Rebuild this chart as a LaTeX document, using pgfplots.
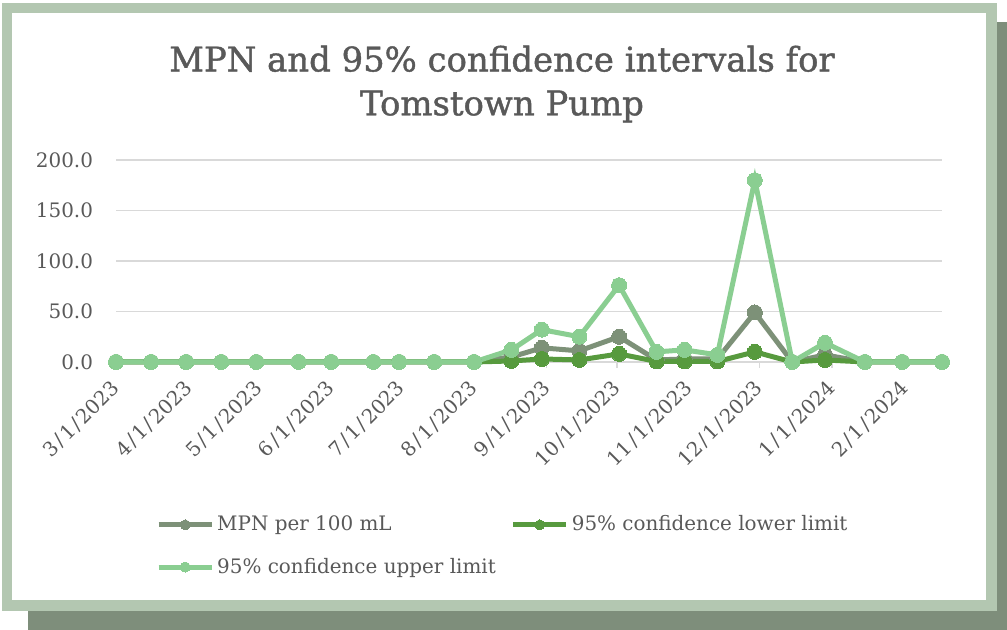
\documentclass[border=0pt]{standalone}
\usepackage{fontspec}
\setmainfont{DejaVu Serif}
\newfontfamily\titlefont{DejaVu Serif}[FakeBold=1.2]
\usepackage{pgfplots}
\usepackage{pgfplotstable}
\pgfplotsset{compat=1.18}
\definecolor{mpnc}{HTML}{7D9178}
\definecolor{lowc}{HTML}{579A3E}
\definecolor{upc}{HTML}{8ACE91}
\definecolor{framec}{HTML}{B3C7B1}
\definecolor{shadowc}{HTML}{7E8E7B}
\definecolor{gridc}{HTML}{D9D9D9}
\definecolor{txt}{HTML}{595959}
\newcommand{\dsl}{\kern1bp/\kern1bp}
% day = days since 3/1/2023
\pgfplotstableread{
day mpn low up
0   0  0   0
15  0  0   0
30  0  0   0
45  0  0   0
60  0  0   0
78  0  0   0
92  0  0   0
110 0  0   0
121 0  0   0
136 0  0   0
153 0  0   0
169 5  1   12
182 14 3   32
198 11 2   25
215 25 8   76
231 2  0.5 10
243 3  0.5 12
257 3  0.5 7
273 49 10  180
289 0  0   0
303 7  2   19
320 0  0   0
336 0  0   0
353 0  0   0
}\datatable
\begin{document}
\begin{tikzpicture}[x=0.5bp,y=0.5bp]
\useasboundingbox (0,0) rectangle (1007,630);
\fill[shadowc] (28,0) rectangle (1007,608);
\fill[framec] (2,19) rectangle (997,627);
\fill[white] (12,30) rectangle (986,617);
\node[text=txt, font=\titlefont\fontsize{17}{22}\selectfont, align=center] at (502,546) {MPN and 95\% confidence intervals for\\Tomstown Pump};
\begin{axis}[
  at={(58bp,134bp)}, anchor=south west,
  scale only axis, width=413bp, height=101bp,
  xmin=0, xmax=353, ymin=0, ymax=200,
  clip=false,
  axis line style={draw=none},
  ytick={0,50,100,150,200},
  yticklabels={0.0,50.0,100.0,150.0,200.0},
  ymajorgrids,
  grid style={draw=gridc, line width=0.75bp},
  xtick={0,31,61,92,122,153,184,214,245,275,306,337},
  xticklabels={3\dsl1\dsl2023,4\dsl1\dsl2023,5\dsl1\dsl2023,6\dsl1\dsl2023,7\dsl1\dsl2023,8\dsl1\dsl2023,9\dsl1\dsl2023,10\dsl1\dsl2023,11\dsl1\dsl2023,12\dsl1\dsl2023,1\dsl1\dsl2024,2\dsl1\dsl2024},
  xtick pos=left, ytick pos=left,
  ytick style={draw=none},
  xtick style={draw=gridc, line width=0.75bp},
  tick align=outside, major tick length=3bp,
  tick label style={text=txt, font=\fontsize{10}{12}\selectfont},
  xticklabel style={xshift=-3bp, yshift=-0.5bp, rotate=45, anchor=north east, font=\fontsize{10}{12}\selectfont},
  yticklabel style={xshift=-5bp},
  legend columns=2,
  legend cell align=left,
  legend style={draw=none, fill=none, at={(rel axis cs:0.041,-0.725)}, anchor=north west,
    font=\fontsize{10}{12}\selectfont, text=txt, row sep=9bp,
    nodes={inner sep=1.5bp},
    /tikz/every even column/.append style={column sep=6bp}},
  legend image code/.code={
    \draw[#1,mark=none] (0bp,0bp) -- (26.5bp,0bp);
    \draw[#1,mark size=2.5bp] plot coordinates {(13.25bp,0bp)};},
  every axis plot/.append style={line width=2.5bp, mark=*, mark size=3.75bp},
]
\addplot[color=mpnc, mark options={fill=mpnc, draw=mpnc, line width=0pt}] table[x=day,y=mpn] {\datatable};
\addlegendentry{MPN per 100 mL}
\addplot[color=lowc, mark options={fill=lowc, draw=lowc, line width=0pt}] table[x=day,y=low] {\datatable};
\addlegendentry{95\% confidence lower limit}
\addplot[color=upc, mark options={fill=upc, draw=upc, line width=0pt}] table[x=day,y=up] {\datatable};
\addlegendentry{95\% confidence upper limit}
\end{axis}
\end{tikzpicture}
\end{document}
